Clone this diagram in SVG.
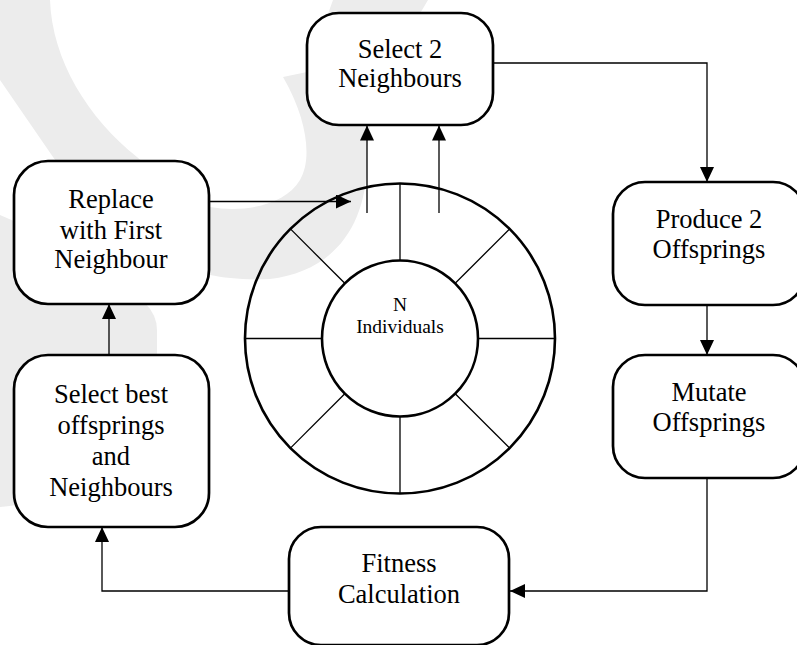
<svg xmlns="http://www.w3.org/2000/svg" width="797" height="645" viewBox="0 0 797 645">
  <defs>
    <marker id="arrow" markerUnits="userSpaceOnUse" markerWidth="16" markerHeight="14" refX="15" refY="7" orient="auto">
      <path d="M0,0 L15,7 L0,14 Z" fill="#000"/>
    </marker>
    <style>
      .box { fill: #fff; stroke: #000; stroke-width: 2.7; }
      text { font-family: 'Liberation Serif', 'Times New Roman', 'DejaVu Serif', serif; fill: #000; text-anchor: middle; }
      .label { font-size: 26.5px; }
      .small { font-size: 19.5px; }
      .ring { fill: none; stroke: #000; stroke-width: 2.6; }
      .spoke { stroke: #000; stroke-width: 1.3; }
      .link { fill: none; stroke: #000; stroke-width: 1.3; marker-end: url(#arrow); }
      .mark { fill: #ececec; }
    </style>
  </defs>

  <rect width="797" height="645" fill="#fff"/>

  <!-- faint background swoosh -->
  <g id="backdrop">
    <path class="mark" d="M0,0 L50,0 C52,60 88,118 137,157 C165,182 185,200 210,207 C245,213 285,205 300,180 C312,160 308,120 283,77 L307,72 L333,0 L428,0 C398,50 368,100 367,157 C368,230 330,272 270,279 C245,280 225,278 210,275 C150,270 90,210 53,157 L0,80 Z"/>
    <path class="mark" d="M0,215 C60,240 120,280 145,303 Q157,315 157,330 L157,400 C150,460 80,500 0,507 Z"/>
  </g>

  <!-- population ring -->
  <g id="population">
    <circle class="ring" cx="400" cy="338.5" r="155"/>
    <circle class="ring" cx="400" cy="338.5" r="78"/>
    <g class="spoke">
      <line x1="478" y1="338.5" x2="555" y2="338.5"/>
      <line x1="455.2" y1="283.3" x2="509.6" y2="228.9"/>
      <line x1="400" y1="260.5" x2="400" y2="183.5"/>
      <line x1="344.8" y1="283.3" x2="290.4" y2="228.9"/>
      <line x1="322" y1="338.5" x2="245" y2="338.5"/>
      <line x1="344.8" y1="393.7" x2="290.4" y2="448.1"/>
      <line x1="400" y1="416.5" x2="400" y2="493.5"/>
      <line x1="455.2" y1="393.7" x2="509.6" y2="448.1"/>
    </g>
    <text class="small" x="400" y="310.5" font-family="Liberation Serif, serif">N</text>
    <text class="small" x="400" y="333" font-family="Liberation Serif, serif">Individuals</text>
  </g>

  <!-- connectors -->
  <g id="connectors">
    <line class="link" x1="209" y1="201.5" x2="351" y2="201.5"/>
    <line class="link" x1="367" y1="213" x2="367" y2="125.5"/>
    <line class="link" x1="439" y1="213" x2="439" y2="125.5"/>
    <polyline class="link" points="493,63 707,63 707,182"/>
    <line class="link" x1="707" y1="305" x2="707" y2="355"/>
    <polyline class="link" points="707,478 707,591 510,591"/>
    <polyline class="link" points="289,591 102,591 102,527"/>
    <line class="link" x1="109" y1="355" x2="109" y2="304"/>
  </g>

  <g id="select-neighbours">
    <rect class="box" x="307" y="13" width="186" height="112" rx="32"/>
    <text class="label" x="400" y="57.5">Select 2</text>
    <text class="label" x="400" y="87">Neighbours</text>
  </g>

  <g id="produce-offsprings">
    <rect class="box" x="613" y="182" width="192" height="123" rx="32"/>
    <text class="label" x="709" y="228">Produce 2</text>
    <text class="label" x="709" y="258">Offsprings</text>
  </g>

  <g id="mutate-offsprings">
    <rect class="box" x="613" y="355" width="192" height="123" rx="32"/>
    <text class="label" x="709" y="401">Mutate</text>
    <text class="label" x="709" y="431">Offsprings</text>
  </g>

  <g id="fitness-calculation">
    <rect class="box" x="289" y="527" width="220" height="118" rx="32"/>
    <text class="label" x="399" y="572">Fitness</text>
    <text class="label" x="399" y="603">Calculation</text>
  </g>

  <g id="select-best">
    <rect class="box" x="14" y="355" width="195" height="172" rx="34"/>
    <text class="label" x="111" y="403">Select best</text>
    <text class="label" x="111" y="434">offsprings</text>
    <text class="label" x="111" y="465">and</text>
    <text class="label" x="111" y="496">Neighbours</text>
  </g>

  <g id="replace-neighbour">
    <rect class="box" x="14" y="161" width="195" height="143" rx="34"/>
    <text class="label" x="111" y="208">Replace</text>
    <text class="label" x="111" y="239">with First</text>
    <text class="label" x="111" y="268">Neighbour</text>
  </g>
</svg>
